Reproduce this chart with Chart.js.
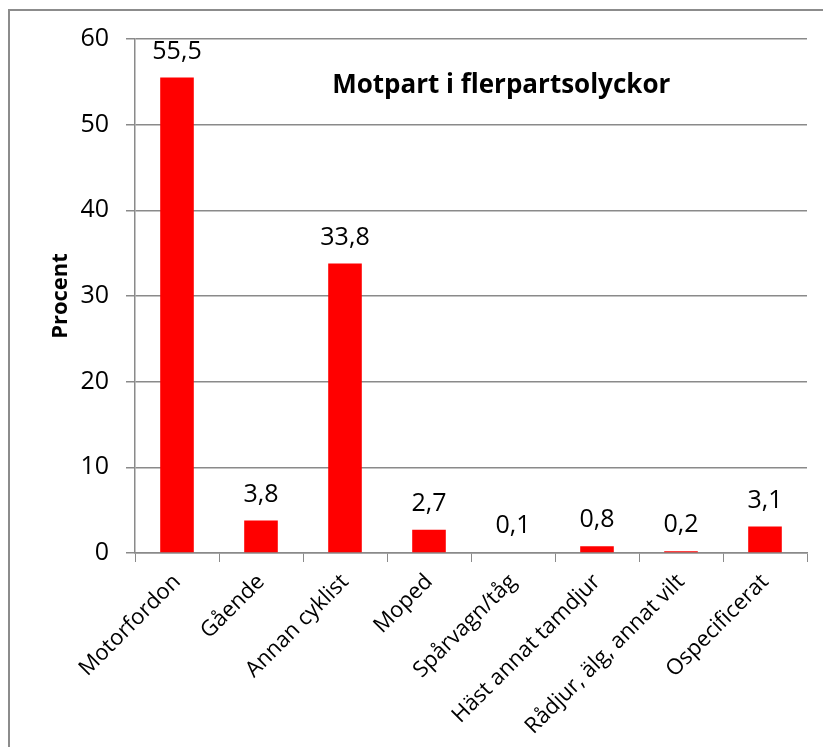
<!DOCTYPE html>
<html>
<head>
<meta charset="utf-8">
<script src="https://cdn.jsdelivr.net/npm/chart.js@4"></script>
<style>
  body { margin: 0; background: #fff; }
  canvas { display: block; }
</style>
</head>
<body>
<canvas id="myChart" width="823" height="747"></canvas>
<script>
// Categories and values (percent)
var categories = ["Motorfordon", "Gående", "Annan cyklist", "Moped", "Spårvagn/tåg",
                  "Häst annat tamdjur", "Rådjur, älg, annat vilt", "Ospecificerat"];
var percentValues = [55.5, 3.8, 33.8, 2.7, 0.1, 0.8, 0.2, 3.1];
var yTicks = [0, 10, 20, 30, 40, 50, 60];
var chartTitle = "Motpart i flerpartsolyckor";
var yTitle = "Procent";

var FONT = "'Open Sans', 'Noto Sans', sans-serif";
var GRID = "#8a8a8a";

// Swedish style decimal comma
function fmt(v) {
    return v.toFixed(1).replace(".", ",");
}

// Draws the outer frame
var framePlugin = {
    id: "frame",
    beforeDraw: function(chart) {
        var ctx = chart.ctx;
        ctx.save();
        ctx.strokeStyle = "#8c8c8c";
        ctx.lineWidth = 2;
        ctx.strokeRect(9, 10, 900, 900);
        ctx.restore();
    }
};

// Value labels above bars + the title inside the plot
var labelPlugin = {
    id: "valueLabels",
    afterDatasetsDraw: function(chart) {
        var ctx = chart.ctx;
        var meta = chart.getDatasetMeta(0);
        ctx.save();
        ctx.fillStyle = "#000";
        ctx.font = "25px " + FONT;
        ctx.textAlign = "center";
        ctx.textBaseline = "middle";
        meta.data.forEach(function(bar, i) {
            ctx.fillText(fmt(percentValues[i]), bar.x, bar.y - 26);
        });

        var area = chart.chartArea;
        ctx.font = "bold 26px " + FONT;
        ctx.fillText(chartTitle, area.left + (area.right - area.left) * 0.545, area.top + 47);
        ctx.restore();
    }
};

var ctx = document.getElementById("myChart").getContext("2d");
var config = {
    type: "bar",
    data: {
        labels: categories,
        datasets: [{
            data: percentValues,
            backgroundColor: "#ff0000",
            borderWidth: 0,
            barPercentage: 0.4,
            categoryPercentage: 1.0
        }]
    },
    options: {
        responsive: false,
        animation: false,
        devicePixelRatio: 1,
        layout: { padding: { left: 48, top: 39, right: 16, bottom: 0 } },
        plugins: {
            legend: { display: false },
            tooltip: { enabled: false },
            title: { display: false }
        },
        scales: {
            x: {
                grid: {
                    drawOnChartArea: false,
                    drawTicks: true,
                    tickLength: 9,
                    color: GRID,
                    offset: true
                },
                border: { color: GRID, width: 1.5 },
                ticks: {
                    autoSkip: false,
                    minRotation: 45,
                    maxRotation: 45,
                    padding: 7,
                    color: "#000",
                    font: { family: FONT, size: 22 }
                },
                afterFit: function(scale) { scale.height = 194; }
            },
            y: {
                min: 0,
                max: 60,
                afterBuildTicks: function(scale) {
                    scale.ticks = yTicks.map(function(v) { return { value: v }; });
                },
                grid: {
                    color: GRID,
                    lineWidth: 1.5,
                    tickLength: 9
                },
                border: { color: GRID, width: 1.5 },
                ticks: {
                    padding: 17,
                    color: "#000",
                    font: { family: FONT, size: 25 }
                },
                title: {
                    display: true,
                    text: yTitle,
                    color: "#000",
                    padding: 0,
                    font: { family: FONT, size: 22, weight: "bold" }
                },
                afterFit: function(scale) { scale.width = 87; }
            }
        }
    },
    plugins: [framePlugin, labelPlugin]
};
var chart = new Chart(ctx, config);
</script>
</body>
</html>
